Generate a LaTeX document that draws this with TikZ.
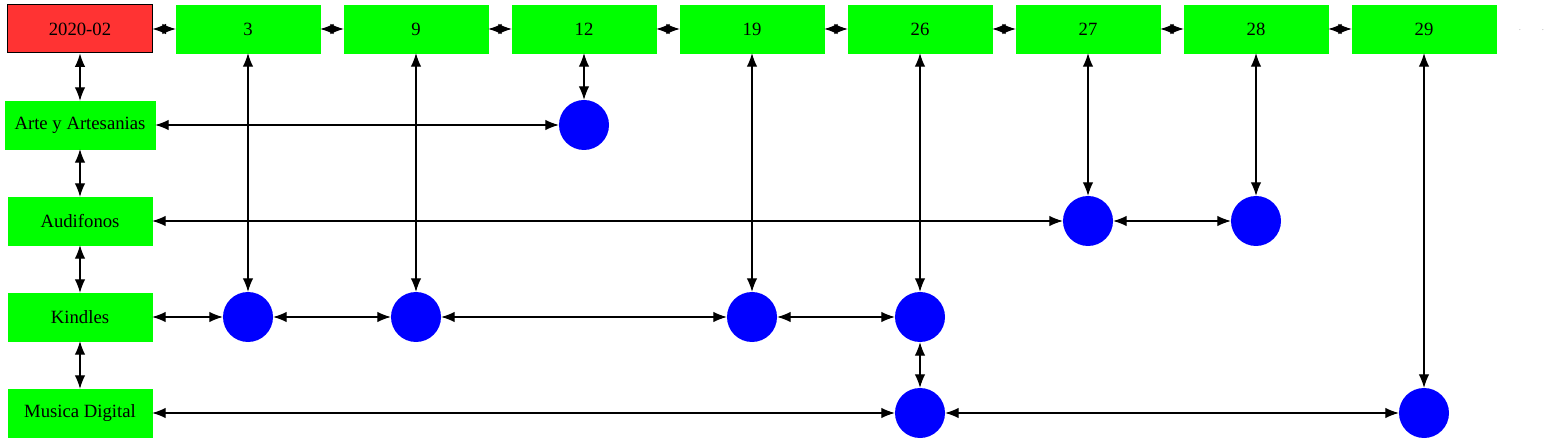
\documentclass[tikz,border=0pt]{standalone}
\usepackage{fontspec}
\setmainfont{Liberation Serif}
\usetikzlibrary{arrows.meta}
\definecolor{boxgreen}{HTML}{00FF00}
\definecolor{boxred}{HTML}{FF3333}
\definecolor{dotblue}{HTML}{0000FF}

\begin{document}
\begin{tikzpicture}[x=1bp,y=-1bp,
    link/.style={draw,line width=1.1bp,{Latex[length=13.5bp,width=10.5bp]}-{Latex[length=13.5bp,width=10.5bp]}}]
    \tikzset{every node/.style={font=\fontsize{18.7bp}{22bp}\selectfont},
        box/.style={rectangle,fill=boxgreen,draw=boxgreen,minimum width=144bp,minimum height=48bp,inner sep=0pt},
        dot/.style={circle,fill=dotblue,minimum size=50bp,inner sep=0pt}}
    \useasboundingbox (0,0) rectangle (1549,443);

    % top row: month and weeks
    \node [box,fill=boxred,draw=black,line width=1bp] (d) at (80,29) {2020-02};
    \foreach \w [count=\i] in {3,9,12,19,26,27,28,29}
        \node [box] (w\w) at (80+168*\i,29) {\w};
    \node [anchor=base,font=\scriptsize,text=gray] (e1) at (1520,31) {.};
    \node [anchor=base,font=\scriptsize,text=gray] (e2) at (1543,31) {.};

    % categories
    \node [box,minimum width=150bp] (arte) at (80,125) {Arte y Artesanias};
    \node [box] (audi) at (80,221) {Audifonos};
    \node [box] (kind) at (80,317) {Kindles};
    \node [box] (musi) at (80,413) {Musica Digital};

    % entries
    \node [dot] (a12) at (584,125) {};
    \node [dot] (au27) at (1088,221) {};
    \node [dot] (au28) at (1256,221) {};
    \node [dot] (k3) at (248,317) {};
    \node [dot] (k9) at (416,317) {};
    \node [dot] (k19) at (752,317) {};
    \node [dot] (k26) at (920,317) {};
    \node [dot] (m26) at (920,413) {};
    \node [dot] (m29) at (1424,413) {};

    \foreach \a/\b in {d/w3,w3/w9,w9/w12,w12/w19,w19/w26,w26/w27,w27/w28,w28/w29,
        d/arte,arte/audi,audi/kind,kind/musi,
        w12/a12,arte/a12,
        w27/au27,w28/au28,audi/au27,au27/au28,
        w3/k3,w9/k9,w19/k19,w26/k26,kind/k3,k3/k9,k9/k19,k19/k26,
        k26/m26,w29/m29,musi/m26,m26/m29}
        \draw [link] (\a) -- (\b);

\end{tikzpicture}
\end{document}
